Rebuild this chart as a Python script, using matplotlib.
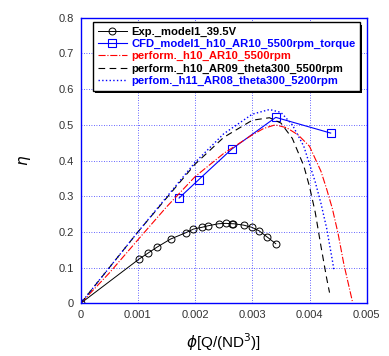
import matplotlib.pyplot as plt
from matplotlib.patches import Rectangle

# measured efficiency data
exp_phi = [0.0, 0.00102, 0.00117, 0.00133, 0.00157, 0.00184, 0.00197, 0.00212, 0.00222,
           0.00241, 0.00254, 0.00264, 0.00267, 0.00285, 0.00299, 0.00312, 0.00325, 0.00341]
exp_eta = [0.0, 0.124, 0.140, 0.157, 0.180, 0.198, 0.208, 0.213, 0.217,
           0.223, 0.224, 0.223, 0.223, 0.219, 0.213, 0.203, 0.187, 0.167]

cfd_phi = [0.00172, 0.00206, 0.00264, 0.00341, 0.00437]
cfd_eta = [0.295, 0.346, 0.432, 0.521, 0.477]

h10_ar10_phi = [0.0, 0.0005, 0.001, 0.0015, 0.002, 0.0025, 0.003, 0.0032, 0.0034, 0.0036,
                0.0038, 0.004, 0.0042, 0.0043, 0.0044, 0.0045, 0.0046, 0.0047, 0.00475]
h10_ar10_eta = [0.0, 0.085, 0.178, 0.270, 0.355, 0.420, 0.472, 0.490, 0.500, 0.492,
                0.472, 0.440, 0.370, 0.320, 0.265, 0.195, 0.110, 0.040, 0.005]

h10_ar09_phi = [0.0, 0.001, 0.002, 0.0025, 0.003, 0.0033, 0.0035, 0.0037, 0.0039, 0.004,
                0.0041, 0.0042, 0.0043, 0.00435]
h10_ar09_eta = [0.0, 0.200, 0.390, 0.465, 0.513, 0.520, 0.505, 0.462, 0.385, 0.327,
                0.255, 0.160, 0.070, 0.030]

h11_ar08_phi = [0.0, 0.001, 0.002, 0.0025, 0.003, 0.0033, 0.0035, 0.0037, 0.0039, 0.0041,
                0.0042, 0.0043, 0.0044, 0.00443]
h11_ar08_eta = [0.0, 0.200, 0.395, 0.475, 0.530, 0.543, 0.535, 0.500, 0.440, 0.340,
                0.280, 0.210, 0.120, 0.090]

labels = ['Exp._model1_39.5V', 'CFD_model1_h10_AR10_5500rpm_torque',
          'perform._h10_AR10_5500rpm', 'perform._h10_AR09_theta300_5500rpm',
          'perfom._h11_AR08_theta300_5200rpm']
label_colors = ['black', 'blue', 'red', 'black', 'blue']

plt.rcParams['font.family'] = ['Liberation Sans', 'DejaVu Sans']

fig = plt.figure(figsize=(3.89, 3.56), dpi=100)
ax = fig.add_axes([0.2075, 0.148, 0.7352, 0.802])

ax.plot(exp_phi, exp_eta, '-', color='black', lw=0.7, marker='o', ms=5,
        mfc='none', mec='black', mew=0.7, label=labels[0])
ax.plot(cfd_phi, cfd_eta, '-', color='blue', lw=0.8, marker='s', ms=6,
        mfc='none', mec='blue', mew=0.8, label=labels[1])
ax.plot(h10_ar10_phi, h10_ar10_eta, '-.', color='red', lw=0.8, label=labels[2])
ax.plot(h10_ar09_phi, h10_ar09_eta, '--', color='black', lw=0.8, dashes=(6, 4), label=labels[3])
ax.plot(h11_ar08_phi, h11_ar08_eta, ':', color='blue', lw=1.0, label=labels[4])

ax.set_xlim(0, 0.005)
ax.set_ylim(0, 0.8)
ax.set_xticks([0, 0.001, 0.002, 0.003, 0.004, 0.005])
ax.set_xticklabels(['0', '0.001', '0.002', '0.003', '0.004', '0.005'])
ax.set_yticks([0, 0.1, 0.2, 0.3, 0.4, 0.5, 0.6, 0.7, 0.8])
ax.set_yticklabels(['0', '0.1', '0.2', '0.3', '0.4', '0.5', '0.6', '0.7', '0.8'])
ax.tick_params(length=0, labelsize=8, labelcolor='#333333', pad=5)
ax.grid(True, color='blue', linestyle=(0, (1, 2)), lw=0.6, alpha=0.8)
for s in ax.spines.values():
    s.set_color('blue')
    s.set_linewidth(1.0)

ax.set_xlabel(r'$\phi$[Q/(ND$^3$)]', fontsize=11, labelpad=8)
ax.set_ylabel(r'$\eta$', fontsize=11, labelpad=18)

leg = ax.legend(loc='upper left', bbox_to_anchor=(0.043, 0.985),
                prop={'weight': 'bold', 'size': 8.1}, frameon=True, fancybox=False,
                shadow=False, handlelength=2.6, handletextpad=0.4,
                labelspacing=0.2, borderpad=0.4, borderaxespad=0, framealpha=1)
leg.get_frame().set_edgecolor('black')
leg.get_frame().set_facecolor('white')
leg.get_frame().set_linewidth(1.0)
for t, c in zip(leg.get_texts(), label_colors):
    t.set_color(c)

# drop shadow behind the legend box
fig.canvas.draw()
bb = leg.get_window_extent().transformed(fig.transFigure.inverted())
shadow = Rectangle((bb.x0 + 0.006, bb.y0 - 0.007), bb.width, bb.height,
                   transform=fig.transFigure, facecolor='black', zorder=leg.get_zorder() - 0.5)
ax.add_artist(shadow)
shadow.set_clip_on(False)

fig.savefig('out.png', dpi=100)
